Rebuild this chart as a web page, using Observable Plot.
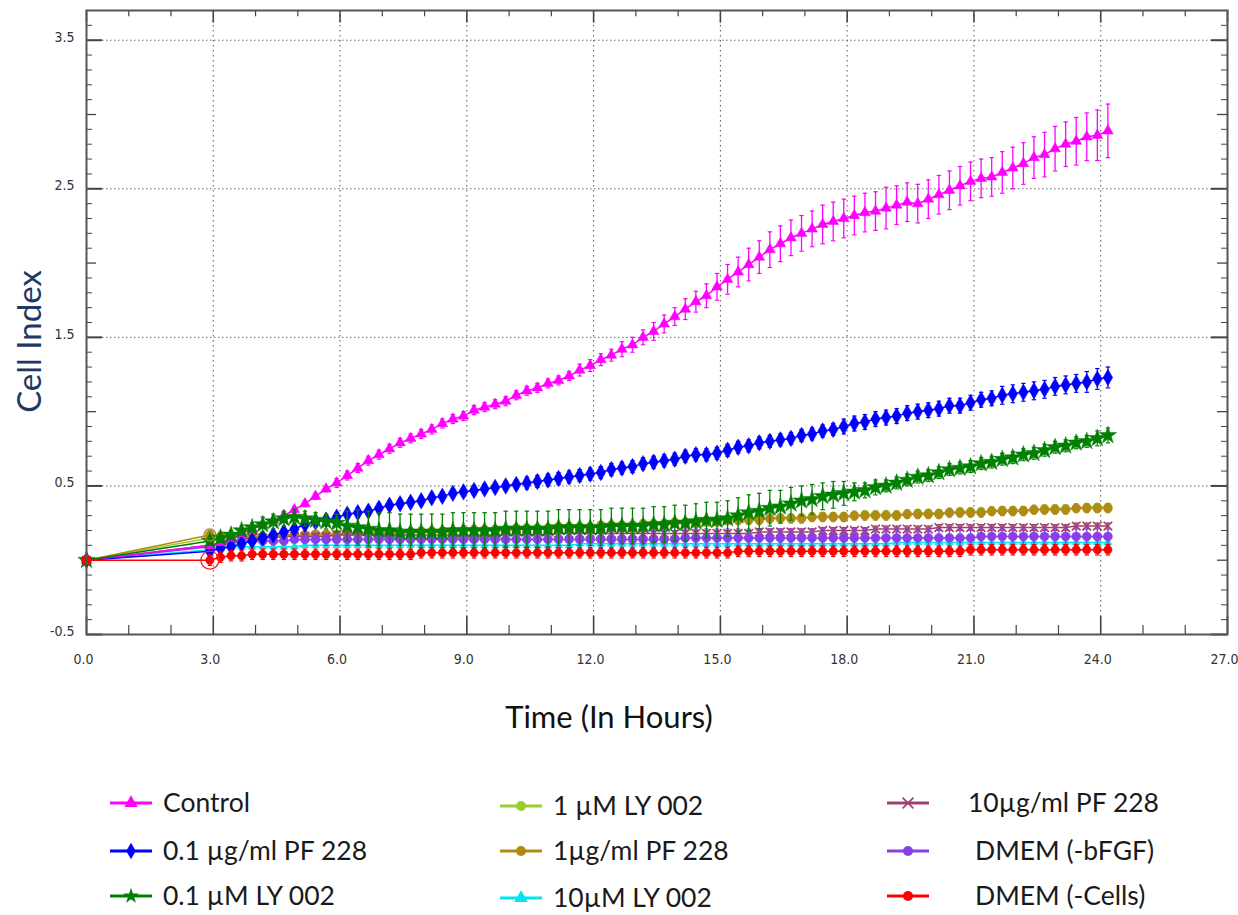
<!DOCTYPE html>
<html><head><meta charset="utf-8">
<script src="https://cdn.jsdelivr.net/npm/d3@7"></script>
<script src="https://cdn.jsdelivr.net/npm/@observablehq/plot@0.6"></script>
<style>
body{margin:0;background:#fff;}
#wrap{position:relative;width:1238px;height:915px;overflow:hidden;background:#fff;}
#chart svg{display:block;}
#legend{position:absolute;left:0;top:760px;}
</style></head><body><div id="wrap"><div id="chart"></div><svg id="legend" width="1238" height="155"></svg></div>
<script>
// ---------- data ----------
const times = [0, 2.92, 3.17, 3.42, 3.67, 3.92, 4.17, 4.42, 4.67, 4.92, 5.17, 5.42, 5.67, 5.92, 6.17, 6.42, 6.67, 6.92, 7.17, 7.42, 7.67, 7.92, 8.17, 8.42, 8.67, 8.92, 9.17, 9.42, 9.67, 9.92, 10.17, 10.42, 10.67, 10.92, 11.17, 11.42, 11.67, 11.92, 12.17, 12.42, 12.67, 12.92, 13.17, 13.42, 13.67, 13.92, 14.17, 14.42, 14.67, 14.92, 15.17, 15.42, 15.67, 15.92, 16.17, 16.42, 16.67, 16.92, 17.17, 17.42, 17.67, 17.92, 18.17, 18.42, 18.67, 18.92, 19.17, 19.42, 19.67, 19.92, 20.17, 20.42, 20.67, 20.92, 21.17, 21.42, 21.67, 21.92, 22.17, 22.42, 22.67, 22.92, 23.17, 23.42, 23.67, 23.92, 24.17];

const control = [0, 0.10,0.12,0.15,0.18,0.21,0.24,0.27,0.30,0.34,0.38, 0.43,0.48,0.52,0.57,0.62,0.67,0.71,0.75,0.79,0.82, 0.85,0.88,0.92,0.95,0.97,1.01,1.03,1.05,1.07,1.11, 1.14,1.16,1.19,1.21,1.24,1.28,1.31,1.35,1.38,1.42, 1.45,1.50,1.54,1.59,1.64,1.69,1.74,1.78,1.84,1.89, 1.94,1.99,2.04,2.09,2.13,2.17,2.20,2.23,2.26,2.28, 2.30,2.32,2.34,2.35,2.37,2.39,2.41,2.40,2.43,2.46, 2.49,2.52,2.55,2.57,2.58,2.61,2.64,2.67,2.71,2.73, 2.77,2.80,2.82,2.85,2.86,2.89];
const controlErr = [0, 0.02,0.02,0.02,0.02,0.02,0.02,0.02,0.02,0.02,0.02, 0.02,0.02,0.03,0.03,0.03,0.03,0.03,0.03,0.03,0.03, 0.03,0.03,0.03,0.03,0.03,0.03,0.03,0.03,0.03,0.03, 0.03,0.03,0.03,0.03,0.03,0.04,0.04,0.04,0.04,0.05, 0.05,0.05,0.06,0.06,0.06,0.07,0.07,0.08,0.09,0.10, 0.10,0.11,0.11,0.12,0.12,0.12,0.12,0.12,0.13,0.13, 0.13,0.13,0.13,0.13,0.14,0.13,0.13,0.13,0.13,0.13, 0.13,0.13,0.13,0.13,0.13,0.14,0.14,0.14,0.14,0.15, 0.15,0.15,0.16,0.16,0.17,0.18];

const pf01 = [0, 0.06,0.08,0.09,0.11,0.13,0.15,0.17,0.19,0.21,0.24, 0.26,0.27,0.29,0.31,0.32,0.33,0.35,0.37,0.38,0.39, 0.40,0.42,0.43,0.45,0.46,0.47,0.48,0.49,0.50,0.51, 0.52,0.53,0.54,0.55,0.56,0.57,0.58,0.59,0.61,0.62, 0.63,0.65,0.66,0.67,0.68,0.70,0.71,0.71,0.72,0.74, 0.76,0.77,0.79,0.80,0.81,0.82,0.84,0.85,0.87,0.88, 0.90,0.92,0.93,0.95,0.96,0.97,0.99,1.00,1.01,1.02, 1.04,1.04,1.06,1.08,1.09,1.11,1.12,1.13,1.14,1.15, 1.17,1.18,1.19,1.20,1.22,1.23];
const pf01Err = [0, 0.02,0.02,0.02,0.02,0.02,0.02,0.02,0.02,0.02,0.02, 0.03,0.03,0.03,0.03,0.03,0.03,0.03,0.03,0.03,0.03, 0.03,0.03,0.03,0.03,0.03,0.03,0.03,0.03,0.03,0.03, 0.04,0.04,0.04,0.04,0.04,0.04,0.04,0.04,0.04,0.04, 0.04,0.04,0.04,0.04,0.04,0.04,0.04,0.04,0.04,0.04, 0.04,0.04,0.04,0.04,0.04,0.04,0.04,0.04,0.04,0.04, 0.05,0.05,0.05,0.05,0.05,0.05,0.05,0.05,0.05,0.05, 0.05,0.05,0.05,0.05,0.05,0.06,0.06,0.06,0.06,0.06, 0.06,0.06,0.06,0.07,0.07,0.07];

const ly01 = [0, 0.13,0.15,0.17,0.20,0.22,0.24,0.26,0.28,0.29,0.28, 0.27,0.26,0.25,0.23,0.22,0.21,0.20,0.20,0.19,0.19, 0.19,0.19,0.19,0.20,0.20,0.20,0.20,0.20,0.21,0.21, 0.21,0.21,0.21,0.22,0.22,0.22,0.22,0.22,0.23,0.23, 0.23,0.23,0.24,0.24,0.25,0.25,0.26,0.27,0.27,0.28, 0.30,0.32,0.33,0.35,0.36,0.38,0.40,0.41,0.43,0.44, 0.45,0.46,0.47,0.49,0.50,0.52,0.54,0.56,0.57,0.59, 0.61,0.62,0.63,0.65,0.66,0.68,0.69,0.71,0.72,0.74, 0.76,0.77,0.79,0.80,0.82,0.84];
const ly01Err = [0, 0.03,0.03,0.03,0.03,0.03,0.05,0.05,0.05,0.05,0.05, 0.05,0.05,0.06,0.10,0.12,0.12,0.12,0.12,0.12,0.12, 0.12,0.12,0.12,0.12,0.12,0.12,0.12,0.12,0.12,0.12, 0.12,0.12,0.12,0.12,0.12,0.12,0.12,0.12,0.12,0.12, 0.12,0.12,0.12,0.12,0.12,0.12,0.12,0.12,0.12,0.12, 0.12,0.12,0.12,0.12,0.11,0.11,0.10,0.10,0.09,0.09, 0.08,0.06,0.05,0.05,0.04,0.04,0.04,0.04,0.04,0.04, 0.04,0.04,0.04,0.04,0.04,0.04,0.04,0.04,0.04,0.04, 0.04,0.04,0.04,0.04,0.05,0.05];

const ly1 = [0, 0.15,0.15,0.15,0.16,0.16,0.16,0.17,0.17,0.17,0.17, 0.18,0.18,0.18,0.18,0.18,0.19,0.19,0.19,0.19,0.19, 0.20,0.20,0.20,0.20,0.20,0.21,0.21,0.21,0.21,0.22, 0.22,0.22,0.22,0.23,0.23,0.23,0.23,0.24,0.24,0.24, 0.24,0.25,0.25,0.25,0.26,0.26,0.26,0.27,0.27,0.27, 0.28,0.28,0.28,0.28,0.29,0.29,0.29,0.29,0.30,0.30, 0.30,0.30,0.31,0.31,0.31,0.31,0.31,0.32,0.32,0.32, 0.32,0.33,0.33,0.33,0.33,0.34,0.34,0.34,0.34,0.35, 0.35,0.35,0.35,0.36,0.36,0.36];
const ly1Err = [0, 0.02,0.02,0.02,0.02,0.02,0.02,0.02,0.02,0.02,0.02, 0.02,0.02,0.02,0.02,0.02,0.02,0.02,0.02,0.02,0.02, 0.02,0.02,0.02,0.02,0.02,0.02,0.02,0.02,0.02,0.02, 0.02,0.02,0.02,0.02,0.02,0.02,0.02,0.02,0.02,0.02, 0.02,0.02,0.02,0.02,0.02,0.02,0.02,0.02,0.02,0.02, 0.02,0.02,0.02,0.02,0.02,0.02,0.02,0.02,0.02,0.02, 0.02,0.02,0.02,0.02,0.02,0.02,0.02,0.02,0.02,0.02, 0.02,0.02,0.02,0.02,0.02,0.02,0.02,0.02,0.02,0.02, 0.02,0.02,0.02,0.02,0.02,0.02];

const pf1 = [0, 0.17,0.16,0.16,0.16,0.16,0.16,0.16,0.17,0.17,0.17, 0.17,0.17,0.17,0.18,0.18,0.18,0.18,0.18,0.18,0.19, 0.19,0.19,0.19,0.19,0.20,0.20,0.20,0.20,0.20,0.21, 0.21,0.21,0.21,0.22,0.22,0.22,0.22,0.23,0.23,0.23, 0.23,0.24,0.24,0.24,0.25,0.25,0.25,0.26,0.26,0.27, 0.27,0.27,0.27,0.28,0.28,0.28,0.28,0.29,0.29,0.29, 0.29,0.30,0.30,0.30,0.30,0.30,0.31,0.31,0.31,0.31, 0.32,0.32,0.32,0.32,0.33,0.33,0.33,0.33,0.34,0.34, 0.34,0.34,0.35,0.35,0.35,0.35];
const pf1Err = [0, 0.03,0.03,0.03,0.03,0.03,0.03,0.03,0.03,0.03,0.03, 0.03,0.03,0.03,0.03,0.03,0.03,0.03,0.03,0.03,0.03, 0.03,0.03,0.03,0.03,0.03,0.03,0.03,0.03,0.03,0.03, 0.03,0.03,0.03,0.03,0.03,0.03,0.03,0.03,0.03,0.03, 0.03,0.03,0.03,0.03,0.03,0.03,0.03,0.03,0.03,0.03, 0.03,0.03,0.03,0.03,0.03,0.03,0.03,0.03,0.03,0.03, 0.03,0.03,0.03,0.03,0.03,0.03,0.03,0.03,0.03,0.03, 0.03,0.03,0.03,0.03,0.03,0.03,0.03,0.03,0.03,0.03, 0.03,0.03,0.03,0.03,0.03,0.03];

const ly10 = [0, 0.07,0.08,0.09,0.09,0.09,0.09,0.09,0.09,0.09,0.10, 0.10,0.10,0.10,0.10,0.10,0.10,0.10,0.10,0.10,0.10, 0.10,0.10,0.10,0.10,0.10,0.10,0.10,0.10,0.10,0.10, 0.10,0.10,0.10,0.10,0.10,0.11,0.11,0.11,0.11,0.11, 0.11,0.11,0.11,0.11,0.11,0.11,0.11,0.11,0.11,0.11, 0.11,0.11,0.11,0.11,0.11,0.11,0.11,0.11,0.11,0.11, 0.11,0.11,0.11,0.11,0.11,0.12,0.12,0.12,0.12,0.12, 0.12,0.12,0.12,0.12,0.12,0.12,0.12,0.12,0.12,0.12, 0.12,0.12,0.12,0.12,0.12,0.12];
const ly10Err = [0, 0.01,0.01,0.01,0.01,0.01,0.01,0.01,0.01,0.01,0.01, 0.01,0.01,0.01,0.01,0.01,0.01,0.01,0.01,0.01,0.01, 0.02,0.02,0.02,0.02,0.02,0.02,0.02,0.02,0.02,0.02, 0.02,0.02,0.02,0.02,0.02,0.02,0.02,0.02,0.02,0.02, 0.02,0.02,0.02,0.02,0.02,0.02,0.02,0.02,0.02,0.02, 0.02,0.02,0.02,0.02,0.02,0.02,0.02,0.02,0.02,0.02, 0.02,0.02,0.02,0.02,0.02,0.02,0.02,0.02,0.02,0.02, 0.02,0.02,0.02,0.02,0.02,0.02,0.02,0.02,0.02,0.02, 0.02,0.02,0.02,0.02,0.02,0.02];

const pf10 = [0, 0.10,0.12,0.13,0.14,0.15,0.15,0.15,0.16,0.16,0.16, 0.16,0.16,0.17,0.17,0.17,0.17,0.17,0.17,0.17,0.17, 0.17,0.17,0.17,0.17,0.17,0.17,0.17,0.17,0.17,0.17, 0.17,0.17,0.17,0.18,0.18,0.18,0.18,0.18,0.18,0.18, 0.18,0.18,0.18,0.18,0.18,0.18,0.18,0.18,0.18,0.18, 0.18,0.18,0.19,0.19,0.19,0.19,0.19,0.19,0.20,0.20, 0.20,0.20,0.20,0.21,0.21,0.21,0.21,0.21,0.21,0.22, 0.22,0.22,0.22,0.22,0.22,0.22,0.22,0.22,0.22,0.22, 0.22,0.22,0.23,0.23,0.23,0.23];
const pf10Err = [0, 0.02,0.02,0.02,0.02,0.02,0.02,0.02,0.02,0.02,0.02, 0.02,0.02,0.02,0.02,0.02,0.02,0.02,0.02,0.02,0.02, 0.02,0.02,0.02,0.02,0.02,0.02,0.02,0.02,0.02,0.02, 0.02,0.02,0.02,0.02,0.02,0.02,0.02,0.02,0.02,0.02, 0.02,0.02,0.02,0.02,0.02,0.02,0.02,0.02,0.02,0.02, 0.02,0.02,0.02,0.02,0.02,0.02,0.02,0.02,0.02,0.02, 0.02,0.02,0.02,0.02,0.02,0.02,0.02,0.02,0.02,0.02, 0.02,0.02,0.02,0.02,0.02,0.02,0.02,0.02,0.02,0.02, 0.02,0.02,0.02,0.02,0.02,0.02];

const dmemBfgf = [0, 0.09,0.11,0.12,0.13,0.13,0.13,0.13,0.13,0.14,0.14, 0.14,0.14,0.14,0.14,0.14,0.14,0.14,0.14,0.14,0.14, 0.14,0.14,0.14,0.14,0.14,0.14,0.14,0.14,0.14,0.14, 0.14,0.14,0.14,0.14,0.14,0.14,0.14,0.14,0.14,0.14, 0.14,0.14,0.14,0.14,0.14,0.15,0.15,0.15,0.15,0.15, 0.15,0.15,0.15,0.15,0.15,0.15,0.15,0.15,0.15,0.15, 0.15,0.15,0.15,0.15,0.15,0.15,0.15,0.15,0.15,0.15, 0.15,0.15,0.15,0.16,0.16,0.16,0.16,0.16,0.16,0.16, 0.16,0.16,0.16,0.16,0.16,0.16];
const dmemBfgfErr = [0, 0.02,0.02,0.02,0.02,0.02,0.02,0.02,0.02,0.02,0.02, 0.04,0.04,0.04,0.04,0.04,0.04,0.04,0.04,0.04,0.04, 0.04,0.04,0.04,0.04,0.04,0.04,0.04,0.04,0.04,0.04, 0.06,0.06,0.06,0.06,0.06,0.06,0.06,0.06,0.06,0.06, 0.06,0.06,0.06,0.06,0.06,0.06,0.06,0.06,0.06,0.06, 0.06,0.06,0.06,0.06,0.06,0.06,0.06,0.06,0.06,0.06, 0.06,0.06,0.06,0.06,0.06,0.06,0.06,0.06,0.06,0.06, 0.06,0.06,0.06,0.06,0.06,0.06,0.06,0.06,0.06,0.06, 0.06,0.06,0.06,0.06,0.06,0.06];

const dmemCells = [0, 0.00,0.02,0.03,0.03,0.04,0.04,0.04,0.04,0.04,0.04, 0.04,0.04,0.04,0.04,0.04,0.04,0.04,0.04,0.04,0.04, 0.05,0.05,0.05,0.05,0.05,0.05,0.05,0.05,0.05,0.05, 0.05,0.05,0.05,0.05,0.05,0.05,0.05,0.05,0.05,0.05, 0.05,0.05,0.05,0.05,0.05,0.05,0.05,0.05,0.05,0.05, 0.06,0.06,0.06,0.06,0.06,0.06,0.06,0.06,0.06,0.06, 0.06,0.06,0.06,0.06,0.06,0.06,0.06,0.06,0.06,0.06, 0.06,0.06,0.07,0.07,0.07,0.07,0.07,0.07,0.07,0.07, 0.07,0.07,0.07,0.07,0.07,0.07];
const dmemCellsErr = [0, 0.035,0.035,0.035,0.035,0.035,0.035,0.035,0.035,0.035,0.035, 0.035,0.035,0.035,0.035,0.035,0.035,0.035,0.035,0.035,0.035, 0.035,0.035,0.035,0.035,0.035,0.035,0.035,0.035,0.035,0.035, 0.035,0.035,0.035,0.035,0.035,0.035,0.035,0.035,0.035,0.035, 0.035,0.035,0.035,0.035,0.035,0.035,0.035,0.035,0.035,0.035, 0.035,0.035,0.035,0.035,0.035,0.035,0.035,0.035,0.035,0.035, 0.035,0.035,0.035,0.035,0.035,0.035,0.035,0.035,0.035,0.035, 0.035,0.035,0.035,0.035,0.035,0.035,0.035,0.035,0.035,0.035, 0.035,0.035,0.035,0.035,0.035,0.035];

const seriesNames = ["Control", "0.1 µg/ml PF 228", "0.1 µM LY 002", "1 µM LY 002", "1µg/ml PF 228", "10µM LY 002", "10µg/ml PF 228", "DMEM (-bFGF)", "DMEM (-Cells)"];
const seriesValues = [control, pf01, ly01, ly1, pf1, ly10, pf10, dmemBfgf, dmemCells];
const seriesErrors = [controlErr, pf01Err, ly01Err, ly1Err, pf1Err, ly10Err, pf10Err, dmemBfgfErr, dmemCellsErr];
const seriesColors = ["#ff00ff", "#0000ff", "#008000", "#9acd32", "#b08a14", "#00e5ee", "#a0406e", "#8a3ee8", "#ff0000"];
const seriesSymbols = ["triangle", "diamond", "star", "circle", "circle", "triangle", "times", "circle", "circle"];
const seriesR = [4, 5, 5.5, 4, 4.5, 3, 4, 4.5, 4.2];
const drawOrder = [3, 4, 5, 6, 7, 1, 0, 2, 8];

const xTicks = [0, 3, 6, 9, 12, 15, 18, 21, 24, 27];
const yTicks = [-0.5, 0.5, 1.5, 2.5, 3.5];

// ---------- geometry ----------
const W = 1238, H = 760, mt = 10, mr = 11, mb = 126, ml = 86;
const xDom = [0, 27], yDom = [-0.5, 3.7];
const ppx = (W - ml - mr) / (xDom[1] - xDom[0]);
const ppy = (H - mt - mb) / (yDom[1] - yDom[0]);

const xMinor = d3.range(1, 27).filter(v => v % 3 !== 0);
const yAll = d3.range(-5, 38).map(i => i / 10);
const yMinor = yAll.filter(v => Math.round(v * 10) % 5 !== 0);
const yMid = yAll.filter(v => Math.round(v * 10) % 10 === 0);

const rows = [];
seriesNames.forEach((name, s) => {
  times.forEach((t, i) => rows.push({s, name, t, v: seriesValues[s][i], e: seriesErrors[s][i], i}));
});

const cap = {draw(ctx, size) { const r = Math.sqrt(size / Math.PI); ctx.moveTo(-r, 0); ctx.lineTo(r, 0); }};

const marks = [];
marks.push(Plot.gridX(xTicks.slice(1, -1), {stroke: "#555", strokeOpacity: 1, strokeDasharray: "1.5,3.5", strokeWidth: 1}));
marks.push(Plot.gridY(yTicks.slice(1), {stroke: "#666", strokeOpacity: 1, strokeDasharray: "1.5,2.5", strokeWidth: 1}));

const tickColor = "#444";
for (const [vals, len, w] of [[yMinor, 6, 1], [yMid, 10, 1.3], [yTicks, 16, 2]]) {
  marks.push(Plot.ruleY(vals, {y: d => d, x1: xDom[0], x2: xDom[0] + len / ppx, stroke: tickColor, strokeWidth: w}));
  marks.push(Plot.ruleY(vals, {y: d => d, x1: xDom[1] - len / ppx, x2: xDom[1], stroke: tickColor, strokeWidth: w}));
}
for (const [vals, len, w] of [[xMinor, 9, 1.2], [xTicks, 18, 1.6]]) {
  marks.push(Plot.ruleX(vals, {x: d => d, y1: yDom[0], y2: yDom[0] + len / ppy, stroke: tickColor, strokeWidth: w}));
  marks.push(Plot.ruleX(vals, {x: d => d, y1: yDom[1] - len * 0.7 / ppy, y2: yDom[1], stroke: tickColor, strokeWidth: w}));
}

for (const s of drawOrder) {
  const d = rows.filter(r => r.s === s);
  const c = seriesColors[s];
  marks.push(Plot.ruleX(d, {x: "t", y1: r => r.v - r.e, y2: r => r.v + r.e, stroke: c, strokeWidth: 1.3}));
  marks.push(Plot.dot(d, {x: "t", y: r => r.v + r.e, symbol: cap, r: 2.2, stroke: c, strokeWidth: 1.2}));
  marks.push(Plot.dot(d, {x: "t", y: r => r.v - r.e, symbol: cap, r: 2.2, stroke: c, strokeWidth: 1.2}));
  marks.push(Plot.line(d, {x: "t", y: "v", stroke: c, strokeWidth: 1.5}));
  if (seriesSymbols[s] === "times") {
    marks.push(Plot.dot(d, {x: "t", y: "v", symbol: "times", r: seriesR[s], stroke: c, strokeWidth: 1.6}));
  } else {
    marks.push(Plot.dot(d, {x: "t", y: "v", symbol: seriesSymbols[s], r: seriesR[s], fill: c, stroke: c, strokeWidth: 0.5}));
  }
}
marks.push(Plot.dot(rows.filter(r => r.i === 1 && r.s === 8), {x: "t", y: "v", r: 9, stroke: "#ff2020", strokeWidth: 1.3, fill: "none"}));
marks.push(Plot.dot(rows.filter(r => r.i === 1 && r.s === 4), {x: "t", y: "v", r: 6, stroke: "#a09020", strokeWidth: 1.3, fill: "none"}));
marks.push(Plot.dot(rows.filter(r => r.i === 0 && r.s === 8), {x: "t", y: "v", r: 5, fill: "#ff0000"}));

marks.push(Plot.frame({stroke: "#555", strokeWidth: 2}));

const fmt = d => d.toFixed(1);
marks.push(Plot.axisX(xTicks, {tickSize: 0, tickPadding: 20, tickFormat: fmt, label: null, fontSize: 14, dx: -3, fill: "#333"}));
marks.push(Plot.axisY(yTicks, {tickSize: 0, tickPadding: 12, tickFormat: fmt, label: null, fontSize: 14, dy: -3, fill: "#333"}));
marks.push(Plot.text(["Time (In Hours)"], {frameAnchor: "bottom", textAnchor: "middle", lineAnchor: "middle", dx: -48, dy: 84, fontSize: 31, fill: "#111", fontFamily: "Lato, 'Open Sans', sans-serif"}));
marks.push(Plot.text(["Cell Index"], {frameAnchor: "left", textAnchor: "middle", lineAnchor: "middle", dx: -56, dy: 19, rotate: -90, fontSize: 33, fill: "#1f3864", fontFamily: "Lato, 'Open Sans', sans-serif"}));

const chart = Plot.plot({
  width: W, height: H,
  marginTop: mt, marginRight: mr, marginBottom: mb, marginLeft: ml,
  x: {domain: xDom, axis: null},
  y: {domain: yDom, axis: null},
  style: {fontFamily: "'Liberation Sans Narrow', 'DejaVu Sans Condensed', 'Liberation Sans', sans-serif", background: "#fff"},
  marks
});
document.getElementById("chart").appendChild(chart);

// ---------- legend ----------
const legendPos = [
  {lx: 110, tx: 163, y: 43}, {lx: 110, tx: 163, y: 91}, {lx: 110, tx: 163, y: 136},
  {lx: 500, tx: 553, y: 46}, {lx: 500, tx: 553, y: 91}, {lx: 500, tx: 553, y: 138},
  {lx: 887, tx: 968, y: 43}, {lx: 887, tx: 975, y: 91}, {lx: 887, tx: 975, y: 136}
];
const symMap = {triangle: d3.symbolTriangle, diamond: d3.symbolDiamond, star: d3.symbolStar, circle: d3.symbolCircle, times: d3.symbolTimes};
const lg = d3.select("#legend");
seriesNames.forEach((name, s) => {
  const p = legendPos[s], c = seriesColors[s];
  lg.append("line").attr("x1", p.lx).attr("x2", p.lx + 42).attr("y1", p.y).attr("y2", p.y).attr("stroke", c).attr("stroke-width", 3);
  const r = 5;
  const path = d3.symbol(symMap[seriesSymbols[s]], Math.PI * r * r)();
  const g = lg.append("path").attr("d", path).attr("transform", `translate(${p.lx + 21},${p.y})`);
  if (seriesSymbols[s] === "times") g.attr("fill", "none").attr("stroke", c).attr("stroke-width", 1.6);
  else g.attr("fill", c);
  lg.append("text").attr("x", p.tx).attr("y", p.y).attr("dy", "0.35em").text(name)
    .attr("font-family", "Lato, 'Open Sans', sans-serif").attr("font-size", 26.5).attr("fill", "#1a1a1a");
});
</script></body></html>
